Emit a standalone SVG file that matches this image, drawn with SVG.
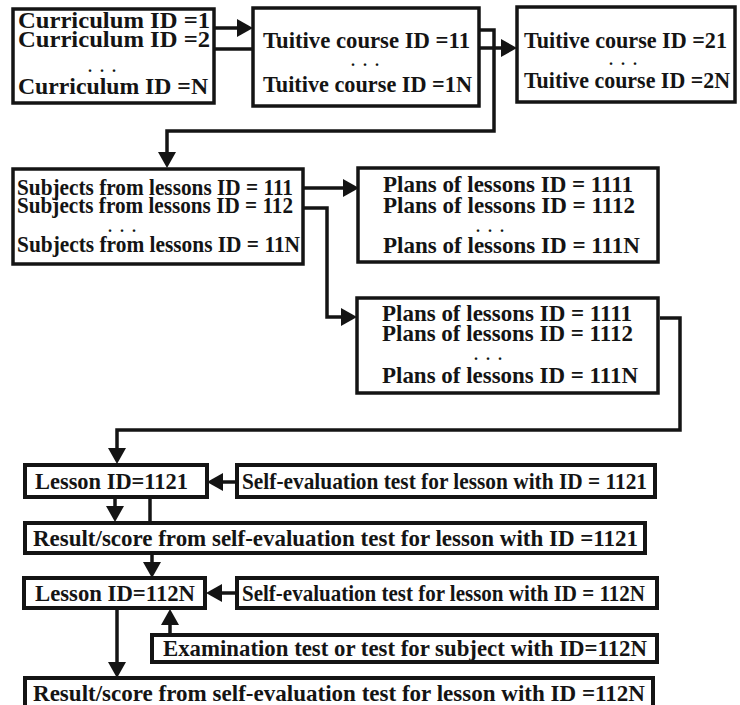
<svg xmlns="http://www.w3.org/2000/svg" width="740" height="705" viewBox="0 0 740 705">
  <style>
    .box { fill: #ffffff; stroke: #141414; stroke-width: 3.5; }
    .bx { fill: #ffffff; stroke: #141414; stroke-width: 4; }
    .t { font-family: "Liberation Serif", "Times New Roman", serif; font-weight: bold; font-size: 24px; fill: #141414; }
    .s { font-size: 22.5px; }
    .d { font-family: "Liberation Serif", "Times New Roman", serif; font-weight: bold; font-size: 16px; fill: #141414; text-anchor: middle; letter-spacing: 2px; }
    .ln { fill: none; stroke: #141414; stroke-width: 3.5; stroke-linejoin: miter; }
  </style>
  <defs>
    <marker id="ah" markerUnits="userSpaceOnUse" viewBox="0 -9 16 18" markerWidth="16" markerHeight="18" refX="0" refY="0" orient="auto">
      <path d="M0,-9 L16,0 L0,9 z" fill="#141414"/>
    </marker>
  </defs>
  <rect width="740" height="705" fill="#ffffff"/>

  <g id="connectors">
    <path class="ln" d="M214,28 H237" marker-end="url(#ah)"/>
    <path class="ln" d="M214,49 H253"/>
    <path class="ln" d="M479,30 H494 V131 H167 V152" marker-end="url(#ah)"/>
    <path class="ln" d="M479,48 H501" marker-end="url(#ah)"/>
    <path class="ln" d="M303,188 H343" marker-end="url(#ah)"/>
    <path class="ln" d="M303,208 H327 V317 H341" marker-end="url(#ah)"/>
    <path class="ln" d="M660,318 H680 V430 H117 V448" marker-end="url(#ah)"/>
    <path class="ln" d="M237,482 H223" marker-end="url(#ah)"/>
    <path class="ln" d="M115,497 V506" marker-end="url(#ah)"/>
    <path class="ln" d="M150,497 V523"/>
    <path class="ln" d="M152,553 V562" marker-end="url(#ah)"/>
    <path class="ln" d="M237,593 H222" marker-end="url(#ah)"/>
    <path class="ln" d="M170,635 V625" marker-end="url(#ah)"/>
    <path class="ln" d="M117,608 V662" marker-end="url(#ah)"/>
  </g>

  <g id="curriculum">
    <rect class="box" x="13" y="9" width="201" height="94"/>
    <text class="t" x="18" y="28" textLength="192" lengthAdjust="spacingAndGlyphs">Curriculum  ID =1</text>
    <text class="t" x="18" y="47" textLength="192" lengthAdjust="spacingAndGlyphs">Curriculum  ID =2</text>
    <text class="d" x="103" y="72">. . .</text>
    <text class="t" x="18" y="94" textLength="190" lengthAdjust="spacingAndGlyphs">Curriculum  ID =N</text>
  </g>

  <g id="course1">
    <rect class="box" x="253" y="8" width="226" height="98"/>
    <text class="t" x="263" y="48" textLength="207" lengthAdjust="spacingAndGlyphs">Tuitive course ID =11</text>
    <text class="d" x="366" y="66">. . .</text>
    <text class="t" x="263" y="92" textLength="209" lengthAdjust="spacingAndGlyphs">Tuitive course ID =1N</text>
  </g>

  <g id="course2">
    <rect class="box" x="517" y="7" width="218" height="95"/>
    <text class="t s" x="524" y="48" textLength="203" lengthAdjust="spacingAndGlyphs">Tuitive course ID =21</text>
    <text class="d" x="624" y="65">. . .</text>
    <text class="t s" x="524" y="88" textLength="206" lengthAdjust="spacingAndGlyphs">Tuitive course ID =2N</text>
  </g>

  <g id="subjects">
    <rect class="box" x="13" y="169" width="290" height="95"/>
    <text class="t" x="17" y="195" textLength="276" lengthAdjust="spacingAndGlyphs">Subjects from lessons ID = 111</text>
    <text class="t" x="17" y="213" textLength="276" lengthAdjust="spacingAndGlyphs">Subjects from lessons ID = 112</text>
    <text class="d" x="123" y="232">. . .</text>
    <text class="t" x="17" y="252" textLength="283" lengthAdjust="spacingAndGlyphs">Subjects from lessons ID = 11N</text>
  </g>

  <g id="plans1">
    <rect class="box" x="358" y="168" width="300" height="94"/>
    <text class="t" x="383" y="192" textLength="250" lengthAdjust="spacingAndGlyphs">Plans of lessons ID = 1111</text>
    <text class="t" x="383" y="213" textLength="252" lengthAdjust="spacingAndGlyphs">Plans of lessons ID = 1112</text>
    <text class="d" x="491" y="232">. . .</text>
    <text class="t" x="383" y="253" textLength="257" lengthAdjust="spacingAndGlyphs">Plans of lessons ID = 111N</text>
  </g>

  <g id="plans2">
    <rect class="box" x="357" y="298" width="301" height="95"/>
    <text class="t" x="382" y="321" textLength="250" lengthAdjust="spacingAndGlyphs">Plans of lessons ID = 1111</text>
    <text class="t" x="382" y="341" textLength="251" lengthAdjust="spacingAndGlyphs">Plans of lessons ID = 1112</text>
    <text class="d" x="489" y="360">. . .</text>
    <text class="t" x="382" y="383" textLength="256" lengthAdjust="spacingAndGlyphs">Plans of lessons ID = 111N</text>
  </g>

  <g id="lesson1">
    <rect class="bx" x="25" y="465" width="182" height="32"/>
    <text class="t" x="35" y="489" textLength="153" lengthAdjust="spacingAndGlyphs">Lesson ID=1121</text>
  </g>

  <g id="selftest1">
    <rect class="bx" x="237" y="465" width="418" height="32"/>
    <text class="t" x="242" y="489" textLength="405" lengthAdjust="spacingAndGlyphs">Self-evaluation test for lesson with ID = 1121</text>
  </g>

  <g id="result1">
    <rect class="bx" x="25" y="523" width="620" height="30"/>
    <text class="t" x="33" y="546" textLength="605" lengthAdjust="spacingAndGlyphs">Result/score from self-evaluation test for lesson with ID =1121</text>
  </g>

  <g id="lesson2">
    <rect class="bx" x="24" y="578" width="181" height="30"/>
    <text class="t" x="35" y="601" textLength="160" lengthAdjust="spacingAndGlyphs">Lesson ID=112N</text>
  </g>

  <g id="selftest2">
    <rect class="bx" x="237" y="578" width="420" height="30"/>
    <text class="t" x="242" y="601" textLength="403" lengthAdjust="spacingAndGlyphs">Self-evaluation test for lesson with ID = 112N</text>
  </g>

  <g id="exam">
    <rect class="bx" x="152" y="635" width="505" height="27"/>
    <text class="t" x="163" y="656" textLength="484" lengthAdjust="spacingAndGlyphs">Examination test or test for subject with ID=112N</text>
  </g>

  <g id="result2">
    <rect class="bx" x="25" y="678" width="628" height="32"/>
    <text class="t" x="33" y="701" textLength="612" lengthAdjust="spacingAndGlyphs">Result/score from self-evaluation test for lesson with ID =112N</text>
  </g>
</svg>
